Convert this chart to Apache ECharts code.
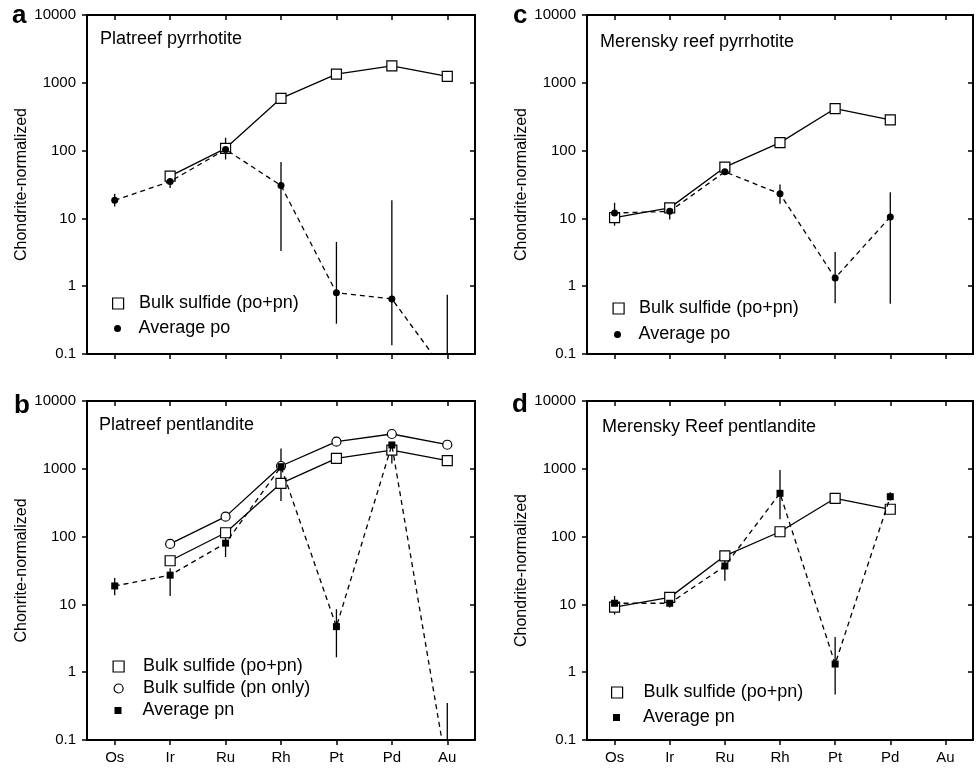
<!DOCTYPE html>
<html><head><meta charset="utf-8">
<script src="https://cdn.jsdelivr.net/npm/echarts@6/dist/echarts.min.js"></script>
<style>html,body{margin:0;padding:0;background:#fff}#chart{width:976px;height:770px}</style>
</head><body><div id="chart"></div>
<script>
// ---------- data ----------
const categories = ['Os', 'Ir', 'Ru', 'Rh', 'Pt', 'Pd', 'Au'];
const yTickLabels = ['0.1', '1', '10', '100', '1000', '10000'];

// Panel a: Platreef pyrrhotite
const aBulk      = [null, 42, 108, 590, 1340, 1780, 1240];
const aAvgPo     = [18.5, 35, 104, 30.5, 0.8, 0.65, 0.05];
const aAvgPoLow  = [15, 28, 74, 3.3, 0.28, 0.135, 0.02];
const aAvgPoHigh = [23, 44, 155, 68, 4.5, 18.5, 0.75];

// Panel b: Platreef pentlandite
const bBulk      = [null, 44, 114, 611, 1425, 1890, 1317];
const bBulkPn    = [null, 78, 197, 1100, 2510, 3260, 2265];
const bAvgPn     = [18.7, 27, 80, 1075, 4.7, 2245, 0.034];
const bAvgPnLow  = [13.7, 13.3, 50, 335, 1.66, 1200, 0.01];
const bAvgPnHigh = [24.5, 34, 125, 2000, 8.5, 2500, 0.35];

// Panel c: Merensky reef pyrrhotite
const cBulk      = [10.3, 14.3, 57, 131, 417, 283, null];
const cAvgPo     = [12, 12.7, 48.7, 23, 1.32, 10.5, null];
const cAvgPoLow  = [7.8, 9.6, 45, 16.4, 0.56, 0.55, null];
const cAvgPoHigh = [17, 16.5, 52, 31.6, 3.2, 24.3, null];

// Panel d: Merensky Reef pentlandite
const dBulk      = [9.1, 12.7, 52, 118, 367, 253, null];
const dAvgPn     = [10.4, 10.4, 36.8, 435, 1.32, 388, null];
const dAvgPnLow  = [7.1, 9, 22.4, 180, 0.47, 340, null];
const dAvgPnHigh = [13.3, 11.6, 50.6, 960, 3.3, 450, null];

const panelLetters = ['a', 'b', 'c', 'd'];
const panelTitles = ['Platreef pyrrhotite', 'Platreef pentlandite', 'Merensky reef pyrrhotite', 'Merensky Reef pentlandite'];
const yNames = ['Chondrite-normalized', 'Chonrite-normalized', 'Chondrite-normalized', 'Chondrite-normalized'];
const NAME_BULK = 'Bulk sulfide (po+pn)';
const NAME_BULK_PN = 'Bulk sulfide (pn only)';
const NAME_PO = 'Average po';
const NAME_PN = 'Average pn';

// ---------- layout / style ----------
const FONT = '"Liberation Sans", Arial, Helvetica, sans-serif';
const grids = [
  {left: 87, top: 15, width: 388, height: 339},
  {left: 87, top: 401, width: 388, height: 339},
  {left: 587, top: 15, width: 386, height: 339},
  {left: 587, top: 401, width: 386, height: 339}
];
const showXLabels = [false, true, false, true];

const STY = {
  bulk:   {symbol: 'rect', symbolSize: 10, itemStyle: {color: '#fff', borderColor: '#000', borderWidth: 1.2}, lineType: 'solid'},
  bulkPn: {symbol: 'circle', symbolSize: 9, itemStyle: {color: '#fff', borderColor: '#000', borderWidth: 1.2}, lineType: 'solid'},
  po:     {symbol: 'circle', symbolSize: 7, itemStyle: {color: '#000', borderColor: '#000', borderWidth: 0}, lineType: [5, 4]},
  pn:     {symbol: 'rect', symbolSize: 7, itemStyle: {color: '#000', borderColor: '#000', borderWidth: 0}, lineType: [5, 4]}
};

function fmtTick(v) {
  const s = String(Number(v.toPrecision(6)));
  return yTickLabels.indexOf(s) >= 0 ? s : '';
}

const xAxes = [], yAxes = [], series = [], titles = [], legends = [];

grids.forEach((g, i) => {
  xAxes.push({
    type: 'category', gridIndex: i, position: 'bottom', data: categories, boundaryGap: true,
    axisLine: {show: true, lineStyle: {color: '#000', width: 2}},
    axisTick: {show: true, alignWithLabel: true, inside: false, length: 5, lineStyle: {color: '#000', width: 1.5}},
    axisLabel: {show: showXLabels[i], color: '#000', fontSize: 15, fontFamily: FONT, margin: 10},
    splitLine: {show: false}
  });
  xAxes.push({
    type: 'category', gridIndex: i, position: 'top', data: categories, boundaryGap: true,
    axisLine: {show: true, lineStyle: {color: '#000', width: 2}},
    axisTick: {show: true, alignWithLabel: true, inside: true, length: 5, lineStyle: {color: '#000', width: 1.5}},
    axisLabel: {show: false}, splitLine: {show: false}
  });
  yAxes.push({
    type: 'log', logBase: 10, gridIndex: i, position: 'left', min: 0.1, max: 10000,
    name: yNames[i], nameLocation: 'middle', nameGap: 57,
    nameTextStyle: {color: '#000', fontSize: 16, fontFamily: FONT},
    axisLine: {show: true, lineStyle: {color: '#000', width: 2}},
    axisTick: {show: true, inside: false, length: 5, lineStyle: {color: '#000', width: 1.5}},
    minorTick: {show: false},
    axisLabel: {show: true, color: '#000', fontSize: 15, fontFamily: FONT, margin: 11, formatter: fmtTick},
    splitLine: {show: false}
  });
  yAxes.push({
    type: 'log', logBase: 10, gridIndex: i, position: 'right', min: 0.1, max: 10000,
    axisLine: {show: true, lineStyle: {color: '#000', width: 2}},
    axisTick: {show: true, inside: true, length: 5, lineStyle: {color: '#000', width: 1.5}},
    axisLabel: {show: false}, splitLine: {show: false}
  });
});

function addLine(gi, name, values, sty, z) {
  series.push({
    type: 'line', name: name, xAxisIndex: gi * 2, yAxisIndex: gi * 2,
    data: values.map(v => (v == null ? '-' : v)),
    symbol: sty.symbol, symbolSize: sty.symbolSize, showSymbol: true,
    itemStyle: sty.itemStyle,
    lineStyle: {color: '#000', width: 1.3, type: sty.lineType},
    clip: true, z: z, silent: true, animation: false
  });
}
function addErr(gi, low, high) {
  const d = [];
  low.forEach((lo, k) => { if (lo != null && high[k] != null) d.push([k, lo, high[k]]); });
  series.push({
    type: 'custom', xAxisIndex: gi * 2, yAxisIndex: gi * 2, clip: true, z: 1, silent: true,
    encode: {x: 0, y: [1, 2]}, data: d,
    renderItem: function (params, api) {
      const x = api.value(0);
      const p1 = api.coord([x, api.value(1)]);
      const p2 = api.coord([x, api.value(2)]);
      return {type: 'line', shape: {x1: p1[0], y1: p1[1], x2: p2[0], y2: p2[1]},
              style: {stroke: '#000', lineWidth: 1.3}};
    }
  });
}

// Panel a
addErr(0, aAvgPoLow, aAvgPoHigh);
addLine(0, NAME_BULK, aBulk, STY.bulk, 3);
addLine(0, NAME_PO, aAvgPo, STY.po, 4);
// Panel b
addErr(1, bAvgPnLow, bAvgPnHigh);
addLine(1, NAME_BULK, bBulk, STY.bulk, 3);
addLine(1, NAME_BULK_PN, bBulkPn, STY.bulkPn, 3);
addLine(1, NAME_PN, bAvgPn, STY.pn, 4);
// Panel c
addErr(2, cAvgPoLow, cAvgPoHigh);
addLine(2, NAME_BULK, cBulk, STY.bulk, 3);
addLine(2, NAME_PO, cAvgPo, STY.po, 4);
// Panel d
addErr(3, dAvgPnLow, dAvgPnHigh);
addLine(3, NAME_BULK, dBulk, STY.bulk, 3);
addLine(3, NAME_PN, dAvgPn, STY.pn, 4);

// Titles
const letterPos = [[12, 3], [14, 393], [513, 3], [512, 392]];
const titlePos = [[100, 30], [99, 416], [600, 33], [602, 418]];
panelLetters.forEach((t, i) => {
  titles.push({text: t, left: letterPos[i][0], top: letterPos[i][1], padding: 0,
    textStyle: {fontSize: 26, fontWeight: 'bold', color: '#000', fontFamily: FONT}});
  titles.push({text: panelTitles[i], left: titlePos[i][0], top: titlePos[i][1], padding: 0,
    textStyle: {fontSize: 18, fontWeight: 'normal', color: '#000', fontFamily: FONT}});
});

// Legends: [name, style, symbolCenterX, rowCenterY, textStartX]
const legendRows = [
  [NAME_BULK, STY.bulk, 117.5, 304, 138.5],
  [NAME_PO, STY.po, 117.5, 329, 138.5],
  [NAME_BULK, STY.bulk, 118, 667, 142.5],
  [NAME_BULK_PN, STY.bulkPn, 118, 689, 142.5],
  [NAME_PN, STY.pn, 118, 711, 142.5],
  [NAME_BULK, STY.bulk, 618, 309, 638.5],
  [NAME_PO, STY.po, 617.5, 335, 638.5],
  [NAME_BULK, STY.bulk, 616.5, 693, 643],
  [NAME_PN, STY.pn, 616.5, 718, 643]
];
legendRows.forEach(r => {
  const size = r[1].symbolSize === 7 ? 7 : (r[1].symbol === 'circle' ? 9 : 11);
  const left = r[2] - size / 2;
  const pad = r[4] - left - size - 5;
  legends.push({
    data: [{name: r[0], icon: r[1].symbol, itemStyle: r[1].itemStyle}],
    left: left, top: r[3] - 9.5, orient: 'vertical', padding: 0,
    itemWidth: size, itemHeight: size, selectedMode: false,
    textStyle: {fontSize: 18, color: '#000', fontFamily: FONT, padding: [0, 0, 0, pad]}
  });
});

const chart = echarts.init(document.getElementById('chart'), null, {renderer: 'canvas'});
chart.setOption({
  animation: false,
  backgroundColor: '#fff',
  textStyle: {fontFamily: FONT},
  title: titles,
  legend: legends,
  grid: grids,
  xAxis: xAxes,
  yAxis: yAxes,
  series: series
});
</script>
</body></html>
